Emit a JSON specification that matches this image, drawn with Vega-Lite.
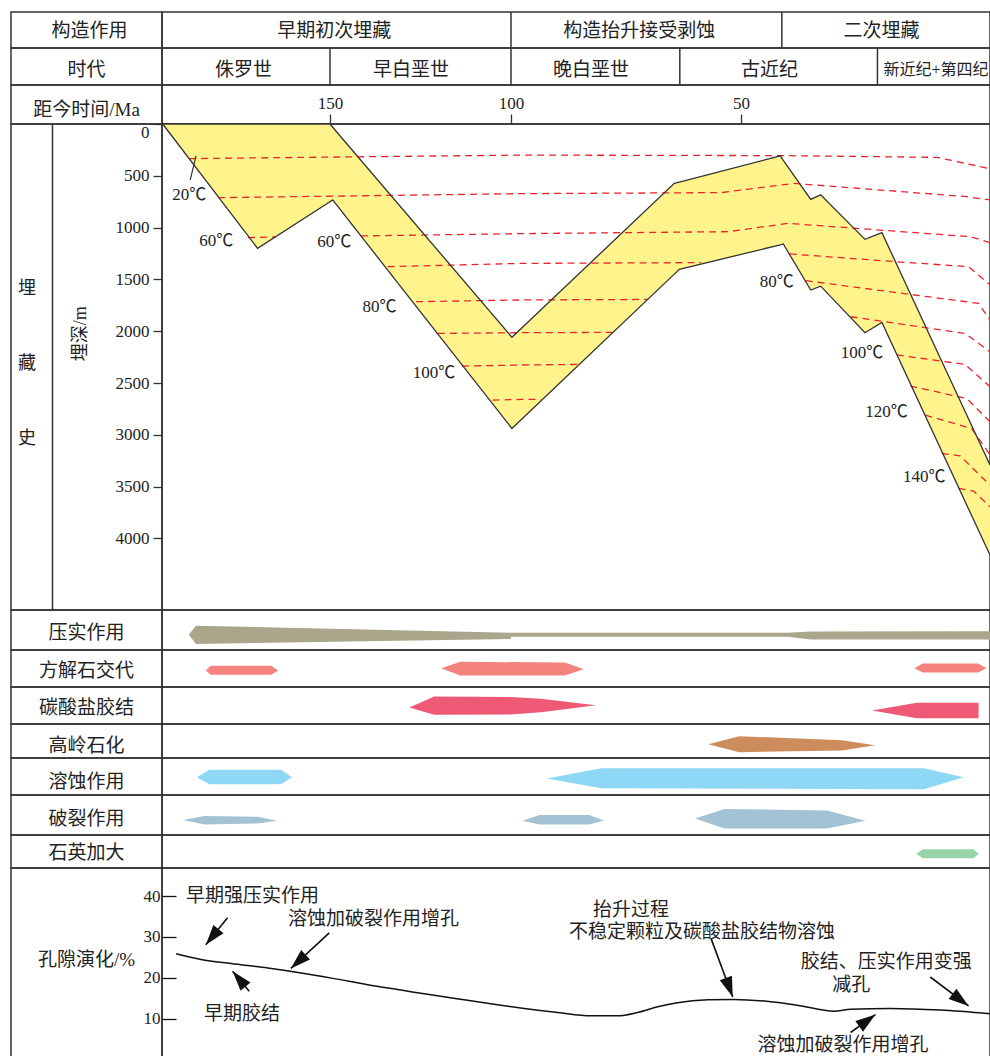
{
  "$schema": "https://vega.github.io/schema/vega-lite/v6.json",
  "background": "white",
  "padding": {"left": 10, "top": 10, "right": 0, "bottom": 0},
  "columns": 2,
  "spacing": 0,
  "bounds": "flush",
  "align": "each",
  "config": {
    "view": {"stroke": "#333", "strokeWidth": 1.5},
    "text": {"font": "Liberation Serif, Noto Sans CJK SC", "fontSize": 19, "color": "#222"},
    "axis": {"labelFont": "Liberation Serif", "labelFontSize": 17, "labelColor": "#222", "tickColor": "#333", "tickWidth": 1.3, "domain": false, "grid": false, "title": null}
  },
  "datasets": {
    "band": [
      {"ma": 196.2, "up": 0, "lo": 0},
      {"ma": 170.0, "up": 0, "lo": 1200},
      {"ma": 150.0, "up": 0, "lo": 750},
      {"ma": 149.25, "up": 31, "lo": 733},
      {"ma": 99.8, "up": 2058, "lo": 2938},
      {"ma": 64.5, "up": 573, "lo": 1449},
      {"ma": 63.4, "up": 560, "lo": 1403},
      {"ma": 42.1, "up": 307, "lo": 1166},
      {"ma": 41.5, "up": 352, "lo": 1158},
      {"ma": 36.0, "up": 727, "lo": 1602},
      {"ma": 34.0, "up": 684, "lo": 1565},
      {"ma": 25.1, "up": 1113, "lo": 2014},
      {"ma": 21.7, "up": 1049, "lo": 1915},
      {"ma": 0, "up": 3291, "lo": 4160}
    ],
    "iso": [
      {"id": "1", "ma": 188.9, "d": 334}, {"id": "1", "ma": 97.8, "d": 300}, {"id": "1", "ma": 42.0, "d": 305}, {"id": "1", "ma": 10.6, "d": 322}, {"id": "1", "ma": 0, "d": 431},
      {"id": "2", "ma": 180.9, "d": 711}, {"id": "2", "ma": 97.8, "d": 672}, {"id": "2", "ma": 54.3, "d": 662}, {"id": "2", "ma": 39.4, "d": 573}, {"id": "2", "ma": 4.7, "d": 701}, {"id": "2", "ma": 0, "d": 733},
      {"id": "3a", "ma": 172.65, "d": 1097}, {"id": "3a", "ma": 164.9, "d": 1090},
      {"id": "3b", "ma": 141.4, "d": 1080}, {"id": "3b", "ma": 97.8, "d": 1058}, {"id": "3b", "ma": 52.8, "d": 1039}, {"id": "3b", "ma": 40.6, "d": 959}, {"id": "3b", "ma": 4.0, "d": 1087}, {"id": "3b", "ma": 0, "d": 1145},
      {"id": "4a", "ma": 134.1, "d": 1377}, {"id": "4a", "ma": 97.8, "d": 1345}, {"id": "4a", "ma": 58.7, "d": 1338},
      {"id": "4b", "ma": 40.2, "d": 1254}, {"id": "4b", "ma": 18.8, "d": 1329}, {"id": "4b", "ma": 4.3, "d": 1377}, {"id": "4b", "ma": 0, "d": 1551},
      {"id": "5a", "ma": 126.2, "d": 1715}, {"id": "5a", "ma": 97.8, "d": 1698}, {"id": "5a", "ma": 70.2, "d": 1693},
      {"id": "5b", "ma": 37.0, "d": 1512}, {"id": "5b", "ma": 2.3, "d": 1731}, {"id": "5b", "ma": 0, "d": 1892},
      {"id": "6a", "ma": 120.2, "d": 2021}, {"id": "6a", "ma": 97.8, "d": 2014}, {"id": "6a", "ma": 77.9, "d": 2011},
      {"id": "6b", "ma": 28.0, "d": 1860}, {"id": "6b", "ma": 5.0, "d": 2021}, {"id": "6b", "ma": 0, "d": 2198},
      {"id": "7a", "ma": 113.5, "d": 2336}, {"id": "7a", "ma": 97.8, "d": 2326}, {"id": "7a", "ma": 85.4, "d": 2320},
      {"id": "7b", "ma": 18.7, "d": 2229}, {"id": "7b", "ma": 5.0, "d": 2320}, {"id": "7b", "ma": 0, "d": 2535},
      {"id": "8a", "ma": 105.1, "d": 2664}, {"id": "8a", "ma": 97.8, "d": 2658}, {"id": "8a", "ma": 93.5, "d": 2658},
      {"id": "8b", "ma": 16.0, "d": 2529}, {"id": "8b", "ma": 4.7, "d": 2648}, {"id": "8b", "ma": 0, "d": 2873},
      {"id": "9", "ma": 13.0, "d": 2809}, {"id": "9", "ma": 3.7, "d": 2938}, {"id": "9", "ma": 0, "d": 3192},
      {"id": "10", "ma": 9.7, "d": 3179}, {"id": "10", "ma": 6.0, "d": 3202}, {"id": "10", "ma": 0, "d": 3485},
      {"id": "11", "ma": 6.3, "d": 3517}, {"id": "11", "ma": 3.3, "d": 3543}, {"id": "11", "ma": 0, "d": 3694}
    ],
    "lead": [{"ma": 187.0, "d": 308}, {"ma": 188.6, "d": 540}],
    "tl": [
      {"t": "20℃", "ma": 188.9, "d": 682},
      {"t": "60℃", "ma": 181.4, "d": 1129},
      {"t": "60℃", "ma": 148.8, "d": 1138},
      {"t": "80℃", "ma": 136.3, "d": 1763},
      {"t": "100℃", "ma": 121.3, "d": 2400},
      {"t": "80℃", "ma": 42.8, "d": 1528},
      {"t": "100℃", "ma": 25.7, "d": 2214},
      {"t": "120℃", "ma": 20.8, "d": 2777},
      {"t": "140℃", "ma": 13.2, "d": 3411}
    ],
    "por": [
      {"ma": 192.5, "p": 25.9}, {"ma": 185.6, "p": 24.5}, {"ma": 177.3, "p": 23.5}, {"ma": 167.2, "p": 22.4}, {"ma": 158.0, "p": 21.2},
      {"ma": 148.8, "p": 19.8}, {"ma": 139.6, "p": 18.3}, {"ma": 130.4, "p": 17.0}, {"ma": 121.2, "p": 15.7}, {"ma": 112.0, "p": 14.5},
      {"ma": 102.8, "p": 13.3}, {"ma": 97.1, "p": 12.5}, {"ma": 89.8, "p": 11.5}, {"ma": 82.6, "p": 10.7}, {"ma": 76.8, "p": 10.7},
      {"ma": 72.5, "p": 11.5}, {"ma": 68.1, "p": 12.9}, {"ma": 63.8, "p": 13.9}, {"ma": 57.2, "p": 14.6}, {"ma": 51.5, "p": 14.7},
      {"ma": 45.3, "p": 14.3}, {"ma": 38.7, "p": 13.3}, {"ma": 31.3, "p": 11.8}, {"ma": 28.0, "p": 12.3}, {"ma": 20.0, "p": 12.5},
      {"ma": 10.0, "p": 12.1}, {"ma": 0, "p": 11.2}
    ],
    "ann": [
      {"t": "早期强压实作用", "ma": 189.8, "p": 40.1},
      {"t": "溶蚀加破裂作用增孔", "ma": 161.6, "p": 34.5},
      {"t": "早期胶结", "ma": 184.8, "p": 11.2},
      {"t": "抬升过程", "ma": 82.2, "p": 36.6},
      {"t": "不稳定颗粒及碳酸盐胶结物溶蚀", "ma": 87.4, "p": 31.3},
      {"t": "胶结、压实作用变强", "ma": 38.0, "p": 23.9},
      {"t": "减孔", "ma": 31.7, "p": 18.2},
      {"t": "溶蚀加破裂作用增孔", "ma": 46.7, "p": 3.6}
    ],
    "arr": [
      {"x1": 178.3, "y1": 34.7, "x2": 184.3, "y2": 28.1, "ang": 219},
      {"x1": 150.2, "y1": 31.0, "x2": 160.8, "y2": 22.3, "ang": 227},
      {"x1": 172.3, "y1": 16.7, "x2": 176.9, "y2": 21.6, "ang": 320},
      {"x1": 56.5, "y1": 29.6, "x2": 51.8, "y2": 15.3, "ang": 160},
      {"x1": 12.0, "y1": 20.2, "x2": 4.3, "y2": 13.1, "ang": 127},
      {"x1": 28.0, "y1": 6.6, "x2": 23.0, "y2": 11.0, "ang": 54}
    ]
  },
  "concat": [
    {"width": 151, "height": 36, "data": {"values": [{"t": "构造作用"}]}, "mark": {"type": "text", "dx": 3, "dy": 1}, "encoding": {"y": {"field": "t", "type": "nominal", "axis": null}, "text": {"field": "t"}}},
    {"width": 828, "height": 36, "layer": [
      {"data": {"values": [{"ma": 100}, {"ma": 41.8}]}, "mark": {"type": "rule", "color": "#333", "strokeWidth": 1.5},
       "encoding": {"x": {"field": "ma", "type": "quantitative", "scale": {"domain": [196.4, 100, 50, 0], "range": [0, 349, 579, 828], "nice": false, "zero": false}, "axis": null}}},
      {"data": {"values": [{"t": "早期初次埋藏", "ma": 148.8}, {"t": "构造抬升接受剥蚀", "ma": 72.1}, {"t": "二次埋藏", "ma": 21.8}]}, "mark": {"type": "text", "dy": 1},
       "encoding": {"x": {"field": "ma", "type": "quantitative", "scale": {"domain": [196.4, 100, 50, 0], "range": [0, 349, 579, 828], "nice": false, "zero": false}, "axis": null}, "text": {"field": "t"}}}
    ]},

    {"width": 151, "height": 37, "data": {"values": [{"t": "时代"}]}, "mark": {"type": "text", "dy": 3}, "encoding": {"y": {"field": "t", "type": "nominal", "axis": null}, "text": {"field": "t"}}},
    {"width": 828, "height": 37, "layer": [
      {"data": {"values": [{"ma": 150}, {"ma": 100}, {"ma": 63.3}, {"ma": 22.6}]}, "mark": {"type": "rule", "color": "#333", "strokeWidth": 1.5},
       "encoding": {"x": {"field": "ma", "type": "quantitative", "scale": {"domain": [196.4, 100, 50, 0], "range": [0, 349, 579, 828], "nice": false, "zero": false}, "axis": null}}},
      {"data": {"values": [{"t": "侏罗世", "ma": 173.9}, {"t": "早白垩世", "ma": 127.6}, {"t": "晚白垩世", "ma": 82.6}, {"t": "古近纪", "ma": 44.3}]}, "mark": {"type": "text", "dy": 3},
       "encoding": {"x": {"field": "ma", "type": "quantitative", "scale": {"domain": [196.4, 100, 50, 0], "range": [0, 349, 579, 828], "nice": false, "zero": false}, "axis": null}, "text": {"field": "t"}}},
      {"data": {"values": [{"t": "新近纪+第四纪", "ma": 21.4}]}, "mark": {"type": "text", "dy": 3, "align": "left", "fontSize": 16},
       "encoding": {"x": {"field": "ma", "type": "quantitative", "scale": {"domain": [196.4, 100, 50, 0], "range": [0, 349, 579, 828], "nice": false, "zero": false}, "axis": null}, "text": {"field": "t"}}}
    ]},

    {"width": 151, "height": 39, "data": {"values": [{"t": "距今时间/Ma"}]}, "mark": {"type": "text", "dy": 5}, "encoding": {"y": {"field": "t", "type": "nominal", "axis": null}, "text": {"field": "t"}}},
    {"width": 828, "height": 39, "data": {"values": [{"t": ""}]}, "mark": {"type": "text"}, "encoding": {"y": {"field": "t", "type": "nominal", "axis": null}, "text": {"field": "t"}}},

    {"width": 151, "height": 486, "layer": [
      {"data": {"values": [{"t": "埋\n藏\n史", "d": 1590}]}, "mark": {"type": "text", "lineBreak": "\n", "lineHeight": 75, "dx": -59.5, "fontSize": 18},
       "encoding": {"y": {"field": "d", "type": "quantitative", "scale": {"domain": [0, 4690], "reverse": true, "nice": false, "zero": false},
                          "axis": {"orient": "left", "offset": -41, "domain": true, "domainColor": "#333", "domainWidth": 1.5, "ticks": false, "labels": false}},
                    "text": {"field": "t"}}},
      {"data": {"values": [{"t": "埋深/m", "d": 2024}]}, "mark": {"type": "text", "angle": 270, "dy": -5.5, "fontSize": 18},
       "encoding": {"y": {"field": "d", "type": "quantitative", "scale": {"domain": [0, 4690], "reverse": true, "nice": false, "zero": false},
                          "axis": {"orient": "left", "offset": -41, "domain": true, "domainColor": "#333", "domainWidth": 1.5, "ticks": false, "labels": false}},
                    "text": {"field": "t"}}}
    ]},
    {"width": 828, "height": 486,
     "encoding": {"x": {"field": "ma", "type": "quantitative", "scale": {"domain": [196.4, 100, 50, 0], "range": [0, 349, 579, 828], "nice": false, "zero": false},
                        "axis": {"orient": "top", "values": [150, 100, 50], "format": "d", "tickSize": 10, "labelPadding": 2}}},
     "layer": [
      {"data": {"name": "band"}, "mark": {"type": "area", "color": "#fff48c", "opacity": 1},
       "encoding": {"y": {"field": "up", "type": "quantitative", "scale": {"domain": [0, 4690], "reverse": true, "nice": false, "zero": false},
                          "axis": {"orient": "left", "values": [0, 500, 1000, 1500, 2000, 2500, 3000, 3500, 4000], "format": "d", "tickSize": 9, "labelPadding": 4, "labelFlush": true}},
                    "y2": {"field": "lo"}}},
      {"data": {"name": "iso"}, "mark": {"type": "line", "color": "#e8232b", "strokeWidth": 1.3, "strokeDash": [7, 5]},
       "encoding": {"y": {"field": "d", "type": "quantitative", "scale": {"domain": [0, 4690], "reverse": true, "nice": false, "zero": false},
                          "axis": {"orient": "left", "values": [0, 500, 1000, 1500, 2000, 2500, 3000, 3500, 4000], "format": "d", "tickSize": 9, "labelPadding": 4, "labelFlush": true}},
                    "detail": {"field": "id"}}},
      {"data": {"name": "band"}, "mark": {"type": "line", "color": "#333", "strokeWidth": 1.3},
       "encoding": {"y": {"field": "up", "type": "quantitative", "scale": {"domain": [0, 4690], "reverse": true, "nice": false, "zero": false},
                          "axis": {"orient": "left", "values": [0, 500, 1000, 1500, 2000, 2500, 3000, 3500, 4000], "format": "d", "tickSize": 9, "labelPadding": 4, "labelFlush": true}}}},
      {"data": {"name": "band"}, "mark": {"type": "line", "color": "#333", "strokeWidth": 1.3},
       "encoding": {"y": {"field": "lo", "type": "quantitative", "scale": {"domain": [0, 4690], "reverse": true, "nice": false, "zero": false},
                          "axis": {"orient": "left", "values": [0, 500, 1000, 1500, 2000, 2500, 3000, 3500, 4000], "format": "d", "tickSize": 9, "labelPadding": 4, "labelFlush": true}}}},
      {"data": {"name": "lead"}, "mark": {"type": "line", "color": "#333", "strokeWidth": 1.2},
       "encoding": {"y": {"field": "d", "type": "quantitative", "scale": {"domain": [0, 4690], "reverse": true, "nice": false, "zero": false},
                          "axis": {"orient": "left", "values": [0, 500, 1000, 1500, 2000, 2500, 3000, 3500, 4000], "format": "d", "tickSize": 9, "labelPadding": 4, "labelFlush": true}}}},
      {"data": {"name": "tl"}, "mark": {"type": "text", "fontSize": 17},
       "encoding": {"y": {"field": "d", "type": "quantitative", "scale": {"domain": [0, 4690], "reverse": true, "nice": false, "zero": false},
                          "axis": {"orient": "left", "values": [0, 500, 1000, 1500, 2000, 2500, 3000, 3500, 4000], "format": "d", "tickSize": 9, "labelPadding": 4, "labelFlush": true}},
                    "text": {"field": "t"}}}
     ]},

    {"width": 151, "height": 40, "data": {"values": [{"t": "压实作用"}]}, "mark": {"type": "text", "dy": 3}, "encoding": {"y": {"field": "t", "type": "nominal", "axis": null}, "text": {"field": "t"}}},
    {"width": 828, "height": 40, "data": {"values": [
      {"id": "a", "ma": 189.0, "top": -4.7, "bot": -4.7}, {"id": "a", "ma": 187.0, "top": 4.3, "bot": -14}, {"id": "a", "ma": 100.05, "top": -2.7, "bot": -9},
      {"id": "a", "ma": 99.95, "top": -2.7, "bot": -6.7}, {"id": "a", "ma": 40.6, "top": -2.7, "bot": -6.7}, {"id": "a", "ma": 36.0, "top": -1.5, "bot": -9.4}, {"id": "a", "ma": 0, "top": -1.3, "bot": -9.4}]},
     "mark": {"type": "area", "color": "#a9a68c", "opacity": 1},
     "encoding": {"x": {"field": "ma", "type": "quantitative", "scale": {"domain": [196.4, 100, 50, 0], "range": [0, 349, 579, 828], "nice": false, "zero": false}, "axis": null},
                  "y": {"field": "top", "type": "quantitative", "scale": {"domain": [-20, 20], "nice": false, "zero": false}, "axis": null}, "y2": {"field": "bot"}, "detail": {"field": "id"}}},

    {"width": 151, "height": 37, "data": {"values": [{"t": "方解石交代"}]}, "mark": {"type": "text", "dy": 2}, "encoding": {"y": {"field": "t", "type": "nominal", "axis": null}, "text": {"field": "t"}}},
    {"width": 828, "height": 37, "data": {"values": [
      {"id": "a", "ma": 184.3, "top": -2, "bot": -2}, {"id": "a", "ma": 182.9, "top": 2.7, "bot": -6.3}, {"id": "a", "ma": 166.3, "top": 2.7, "bot": -6.3}, {"id": "a", "ma": 164.3, "top": -2, "bot": -2},
      {"id": "b", "ma": 119.3, "top": 0.3, "bot": 0.3}, {"id": "b", "ma": 114.0, "top": 6.7, "bot": -7}, {"id": "b", "ma": 88.3, "top": 6, "bot": -7}, {"id": "b", "ma": 84.2, "top": -0.7, "bot": -0.7},
      {"id": "c", "ma": 15.2, "top": 0.3, "bot": 0.3}, {"id": "c", "ma": 13.5, "top": 5, "bot": -4}, {"id": "c", "ma": 2.4, "top": 5, "bot": -4}, {"id": "c", "ma": 0.7, "top": 0.3, "bot": 0.3}]},
     "mark": {"type": "area", "color": "#f4837d", "opacity": 1},
     "encoding": {"x": {"field": "ma", "type": "quantitative", "scale": {"domain": [196.4, 100, 50, 0], "range": [0, 349, 579, 828], "nice": false, "zero": false}, "axis": null},
                  "y": {"field": "top", "type": "quantitative", "scale": {"domain": [-18.5, 18.5], "nice": false, "zero": false}, "axis": null}, "y2": {"field": "bot"}, "detail": {"field": "id"}}},

    {"width": 151, "height": 37, "data": {"values": [{"t": "碳酸盐胶结"}]}, "mark": {"type": "text", "dy": 2}, "encoding": {"y": {"field": "t", "type": "nominal", "axis": null}, "text": {"field": "t"}}},
    {"width": 828, "height": 37, "data": {"values": [
      {"id": "a", "ma": 128.1, "top": -2, "bot": -2}, {"id": "a", "ma": 121.2, "top": 9, "bot": -9.3}, {"id": "a", "ma": 100, "top": 8.5, "bot": -9}, {"id": "a", "ma": 93.5, "top": 6.7, "bot": -6.7}, {"id": "a", "ma": 81.5, "top": 0.3, "bot": 0.3},
      {"id": "b", "ma": 23.7, "top": -5, "bot": -5}, {"id": "b", "ma": 14.7, "top": 2.7, "bot": -12.7}, {"id": "b", "ma": 2.3, "top": 2.7, "bot": -12.7}]},
     "mark": {"type": "area", "color": "#ee5a75", "opacity": 1},
     "encoding": {"x": {"field": "ma", "type": "quantitative", "scale": {"domain": [196.4, 100, 50, 0], "range": [0, 349, 579, 828], "nice": false, "zero": false}, "axis": null},
                  "y": {"field": "top", "type": "quantitative", "scale": {"domain": [-18.5, 18.5], "nice": false, "zero": false}, "axis": null}, "y2": {"field": "bot"}, "detail": {"field": "id"}}},

    {"width": 151, "height": 34, "data": {"values": [{"t": "高岭石化"}]}, "mark": {"type": "text", "dy": 5}, "encoding": {"y": {"field": "t", "type": "nominal", "axis": null}, "text": {"field": "t"}}},
    {"width": 828, "height": 34, "data": {"values": [
      {"id": "a", "ma": 57.1, "top": -3.2, "bot": -3.2}, {"id": "a", "ma": 50.4, "top": 4.8, "bot": -11.2}, {"id": "a", "ma": 29.7, "top": 0.8, "bot": -9.5}, {"id": "a", "ma": 23.1, "top": -4.2, "bot": -4.2}]},
     "mark": {"type": "area", "color": "#cd8c5c", "opacity": 1},
     "encoding": {"x": {"field": "ma", "type": "quantitative", "scale": {"domain": [196.4, 100, 50, 0], "range": [0, 349, 579, 828], "nice": false, "zero": false}, "axis": null},
                  "y": {"field": "top", "type": "quantitative", "scale": {"domain": [-17, 17], "nice": false, "zero": false}, "axis": null}, "y2": {"field": "bot"}, "detail": {"field": "id"}}},

    {"width": 151, "height": 37, "data": {"values": [{"t": "溶蚀作用"}]}, "mark": {"type": "text", "dy": 5}, "encoding": {"y": {"field": "t", "type": "nominal", "axis": null}, "text": {"field": "t"}}},
    {"width": 828, "height": 37, "data": {"values": [
      {"id": "a", "ma": 186.8, "top": -0.7, "bot": -0.7}, {"id": "a", "ma": 183.3, "top": 6.7, "bot": -7.7}, {"id": "a", "ma": 163.5, "top": 6.7, "bot": -7.7}, {"id": "a", "ma": 160.5, "top": -0.7, "bot": -0.7},
      {"id": "b", "ma": 92.2, "top": -2, "bot": -2}, {"id": "b", "ma": 80.4, "top": 8.3, "bot": -11.7}, {"id": "b", "ma": 13.3, "top": 8.3, "bot": -12.7}, {"id": "b", "ma": 5.3, "top": -0.7, "bot": -0.7}]},
     "mark": {"type": "area", "color": "#8fd8f5", "opacity": 1},
     "encoding": {"x": {"field": "ma", "type": "quantitative", "scale": {"domain": [196.4, 100, 50, 0], "range": [0, 349, 579, 828], "nice": false, "zero": false}, "axis": null},
                  "y": {"field": "top", "type": "quantitative", "scale": {"domain": [-18.5, 18.5], "nice": false, "zero": false}, "axis": null}, "y2": {"field": "bot"}, "detail": {"field": "id"}}},

    {"width": 151, "height": 40, "data": {"values": [{"t": "破裂作用"}]}, "mark": {"type": "text", "dy": 4}, "encoding": {"y": {"field": "t", "type": "nominal", "axis": null}, "text": {"field": "t"}}},
    {"width": 828, "height": 40, "data": {"values": [
      {"id": "a", "ma": 190.5, "top": -5, "bot": -5}, {"id": "a", "ma": 184.7, "top": -1, "bot": -9.4}, {"id": "a", "ma": 170.0, "top": -1.7, "bot": -8.4}, {"id": "a", "ma": 164.6, "top": -5.7, "bot": -5.7},
      {"id": "b", "ma": 97.5, "top": -5.7, "bot": -5.7}, {"id": "b", "ma": 93.8, "top": 0, "bot": -9.4}, {"id": "b", "ma": 83.0, "top": 0, "bot": -9.4}, {"id": "b", "ma": 79.8, "top": -5.4, "bot": -5.4},
      {"id": "c", "ma": 60.0, "top": -3.4, "bot": -3.4}, {"id": "c", "ma": 53.6, "top": 6, "bot": -13.4}, {"id": "c", "ma": 32.7, "top": 4.6, "bot": -13.4}, {"id": "c", "ma": 25.0, "top": -5.7, "bot": -5.7}]},
     "mark": {"type": "area", "color": "#a3c2d3", "opacity": 1},
     "encoding": {"x": {"field": "ma", "type": "quantitative", "scale": {"domain": [196.4, 100, 50, 0], "range": [0, 349, 579, 828], "nice": false, "zero": false}, "axis": null},
                  "y": {"field": "top", "type": "quantitative", "scale": {"domain": [-20, 20], "nice": false, "zero": false}, "axis": null}, "y2": {"field": "bot"}, "detail": {"field": "id"}}},

    {"width": 151, "height": 33, "data": {"values": [{"t": "石英加大"}]}, "mark": {"type": "text", "dy": 1}, "encoding": {"y": {"field": "t", "type": "nominal", "axis": null}, "text": {"field": "t"}}},
    {"width": 828, "height": 33, "data": {"values": [
      {"id": "a", "ma": 14.8, "top": -2.3, "bot": -2.3}, {"id": "a", "ma": 13.5, "top": 2.3, "bot": -6.7}, {"id": "a", "ma": 3.3, "top": 2.3, "bot": -6.7}, {"id": "a", "ma": 2.3, "top": -2.3, "bot": -2.3}]},
     "mark": {"type": "area", "color": "#98d3aa", "opacity": 1},
     "encoding": {"x": {"field": "ma", "type": "quantitative", "scale": {"domain": [196.4, 100, 50, 0], "range": [0, 349, 579, 828], "nice": false, "zero": false}, "axis": null},
                  "y": {"field": "top", "type": "quantitative", "scale": {"domain": [-16.5, 16.5], "nice": false, "zero": false}, "axis": null}, "y2": {"field": "bot"}, "detail": {"field": "id"}}},

    {"width": 151, "height": 189, "data": {"values": [{"t": "孔隙演化/%"}]}, "mark": {"type": "text", "dy": -3}, "encoding": {"y": {"field": "t", "type": "nominal", "axis": null}, "text": {"field": "t"}}},
    {"width": 828, "height": 189,
     "encoding": {"x": {"field": "ma", "type": "quantitative", "scale": {"domain": [196.4, 100, 50, 0], "range": [0, 349, 579, 828], "nice": false, "zero": false}, "axis": null}},
     "layer": [
      {"data": {"name": "por"}, "mark": {"type": "line", "color": "#111", "strokeWidth": 1.5, "interpolate": "monotone"},
       "encoding": {"y": {"field": "p", "type": "quantitative", "scale": {"domain": [0.6, 46.9], "nice": false, "zero": false},
                          "axis": {"orient": "left", "values": [10, 20, 30, 40], "format": "d", "tickSize": -14, "labelPadding": 16, "tickColor": "#111"}}}},
      {"data": {"name": "arr"}, "mark": {"type": "rule", "color": "#111", "strokeWidth": 1.6},
       "encoding": {"x": {"field": "x1", "type": "quantitative", "scale": {"domain": [196.4, 100, 50, 0], "range": [0, 349, 579, 828], "nice": false, "zero": false}, "axis": null},
                    "y": {"field": "y1", "type": "quantitative", "scale": {"domain": [0.6, 46.9], "nice": false, "zero": false},
                          "axis": {"orient": "left", "values": [10, 20, 30, 40], "format": "d", "tickSize": -14, "labelPadding": 16, "tickColor": "#111"}},
                    "x2": {"field": "x2"}, "y2": {"field": "y2"}}},
      {"data": {"name": "arr"}, "mark": {"type": "point", "shape": "M0,0L0.55,1.7L-0.55,1.7Z", "filled": true, "color": "#111", "opacity": 1, "size": 560, "strokeWidth": 0},
       "encoding": {"x": {"field": "x2", "type": "quantitative", "scale": {"domain": [196.4, 100, 50, 0], "range": [0, 349, 579, 828], "nice": false, "zero": false}, "axis": null},
                    "y": {"field": "y2", "type": "quantitative", "scale": {"domain": [0.6, 46.9], "nice": false, "zero": false},
                          "axis": {"orient": "left", "values": [10, 20, 30, 40], "format": "d", "tickSize": -14, "labelPadding": 16, "tickColor": "#111"}},
                    "angle": {"field": "ang", "type": "quantitative", "scale": null}}},
      {"data": {"name": "ann"}, "mark": {"type": "text", "align": "left", "fontSize": 19},
       "encoding": {"y": {"field": "p", "type": "quantitative", "scale": {"domain": [0.6, 46.9], "nice": false, "zero": false},
                          "axis": {"orient": "left", "values": [10, 20, 30, 40], "format": "d", "tickSize": -14, "labelPadding": 16, "tickColor": "#111"}},
                    "text": {"field": "t"}}}
     ]}
  ]
}
